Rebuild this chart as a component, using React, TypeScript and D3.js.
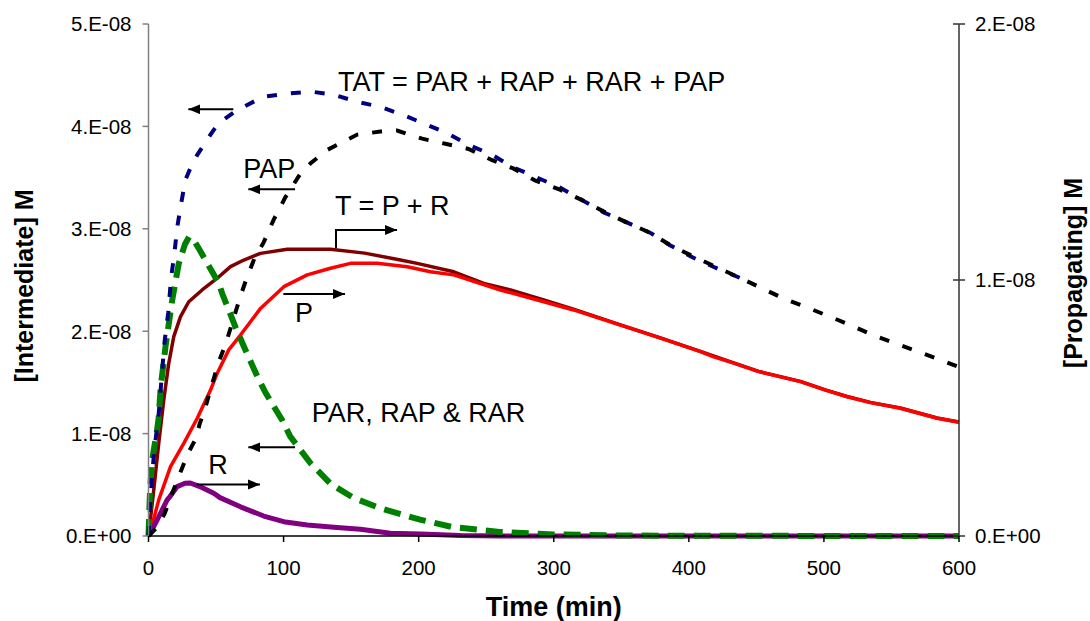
import React from "react";
import * as d3 from "d3";

// ---------- data (time in min, concentrations in units of 1e-8 M) ----------
const UNIT = 1e-8;

// Left axis: [Intermediate] M
const tatData: [number, number][] = [
  [0, 0], [1.5, 0.38], [4, 0.8], [7.6, 1.2], [10.6, 1.69], [12, 1.91], [14.6, 2.18], [16.8, 2.53],
  [19.2, 2.76], [21.2, 3.01], [24.2, 3.25], [27.4, 3.48], [30.3, 3.57], [36, 3.72], [45.9, 3.92],
  [51.8, 4.03], [65.7, 4.16], [85, 4.29], [102.7, 4.32], [120, 4.34], [137, 4.31], [154.5, 4.24],
  [171.7, 4.19], [188.7, 4.11], [203.5, 4.03], [220, 3.94], [237, 3.82], [254.6, 3.72], [270, 3.6],
  [286, 3.51], [305, 3.4], [321, 3.28], [337, 3.16], [354.5, 3.06], [371.6, 2.96], [386, 2.84],
  [403, 2.72], [419.7, 2.62], [438, 2.52],
];

const papData: [number, number][] = [
  [0, 0], [6, 0.08], [12, 0.22], [17, 0.4], [23, 0.6], [29, 0.8], [35, 0.95], [38, 1.1], [42, 1.25],
  [47, 1.48], [52, 1.7], [57, 1.87], [61, 2.04], [68, 2.34], [73, 2.53], [79, 2.73], [85, 2.86],
  [92.7, 3.09], [101.4, 3.31], [112.5, 3.54], [120, 3.64], [132.3, 3.77], [154.5, 3.92], [171.7, 3.95],
  [184, 3.96], [202.6, 3.88], [219.8, 3.83], [236.9, 3.78], [254.4, 3.67], [270, 3.59], [286.5, 3.47],
  [305, 3.38], [321, 3.28], [336.8, 3.17], [354.3, 3.06], [371.6, 2.96], [387.6, 2.83], [403.4, 2.73],
  [419.7, 2.63], [438, 2.52], [454, 2.42], [470, 2.32], [486, 2.24], [504.8, 2.14], [519.6, 2.06],
  [536.6, 1.96], [553, 1.88], [569.9, 1.8], [586, 1.72], [600, 1.65],
];

const parData: [number, number][] = [
  [0, 0], [1, 0.4], [2.5, 0.72], [4, 0.85], [6, 1.0], [7.5, 1.15], [9, 1.45], [12.6, 1.85], [17.5, 2.3],
  [22.4, 2.66], [27, 2.85], [30, 2.92], [34, 2.88], [38, 2.79], [45, 2.63], [52, 2.47], [54.5, 2.37],
  [64.4, 2.04], [70.6, 1.85], [80.5, 1.56], [86.6, 1.4], [99, 1.13], [105, 0.97], [120, 0.71],
  [134.8, 0.51], [152, 0.37], [171.7, 0.27], [201, 0.16], [224, 0.09], [260, 0.04], [300, 0.015],
  [350, 0.005], [400, 0.002], [600, 0],
];

// Right axis: [Propagating] M
const tData: [number, number][] = [
  [0, 0], [3.9, 0.18], [7.6, 0.363], [11.3, 0.531], [15, 0.675], [18.7, 0.779], [23.7, 0.857],
  [29.8, 0.915], [39.7, 0.961], [50.9, 1.007], [60.7, 1.052], [70.6, 1.078], [82.9, 1.104],
  [102.7, 1.12], [134.7, 1.12], [160, 1.105], [186.5, 1.078], [198.9, 1.065], [226, 1.032],
  [248.2, 0.987], [268, 0.961], [292.6, 0.922], [314.6, 0.886], [349.4, 0.825], [379, 0.774],
  [408.6, 0.721], [433.2, 0.676], [451.7, 0.643], [482.6, 0.604], [501.1, 0.571], [517.2, 0.545],
  [534.4, 0.522], [556.6, 0.5], [583.8, 0.461], [600, 0.445],
];

const pData: [number, number][] = [
  [0, 0], [3, 0.05], [7.6, 0.141], [16.3, 0.271], [26.1, 0.362], [36.1, 0.46], [45.9, 0.57],
  [50.9, 0.636], [59.4, 0.727], [68.1, 0.785], [82.9, 0.889], [100.2, 0.974], [117.5, 1.02],
  [134.7, 1.046], [149.5, 1.065], [169.3, 1.065], [191.5, 1.052], [208.7, 1.032], [226, 1.02],
  [260.5, 0.961], [292.6, 0.915], [314.6, 0.883], [349.4, 0.824], [379, 0.773], [408.6, 0.72],
  [418.4, 0.7], [433.2, 0.675], [451.7, 0.642], [482.6, 0.603], [501.1, 0.57], [517.2, 0.544],
  [534.4, 0.521], [556.6, 0.499], [583.8, 0.46], [600, 0.444],
];

const rData: [number, number][] = [
  [0, 0], [6.4, 0.0625], [13.8, 0.141], [15.9, 0.154], [21.2, 0.193], [27, 0.206], [31, 0.207],
  [38, 0.193], [48.3, 0.167], [52.9, 0.15], [68.1, 0.114], [85.3, 0.078], [100.1, 0.056],
  [117.5, 0.043], [137.2, 0.034], [156.9, 0.026], [179.1, 0.011], [201.3, 0.008], [231, 0.002],
  [260, 0], [600, 0],
];

const xTicks = [0, 100, 200, 300, 400, 500, 600];
const leftTicks = [0, 1, 2, 3, 4, 5];
const leftTickLabels = ["0.E+00", "1.E-08", "2.E-08", "3.E-08", "4.E-08", "5.E-08"];
const rightTicks = [0, 1, 2];
const rightTickLabels = ["0.E+00", "1.E-08", "2.E-08"];

// annotations in (time, left-axis units)
const labels = [
  { text: "TAT = PAR + RAP + RAR + PAP", t: 140.3, v: 4.35 },
  { text: "PAP", t: 70.2, v: 3.493 },
  { text: "T = P + R", t: 138.1, v: 3.135 },
  { text: "P", t: 108.5, v: 2.093 },
  { text: "PAR, RAP & RAR", t: 120.8, v: 1.116 },
  { text: "R", t: 44.3, v: 0.605 },
];
const arrows: [number, number][][] = [
  [[62.8, 4.167], [29.5, 4.167]],
  [[108.5, 3.386], [73.9, 3.386]],
  [[138.8, 2.81], [138.8, 2.988], [184, 2.988]],
  [[99.8, 2.363], [145.5, 2.363]],
  [[108.5, 0.866], [73.9, 0.866]],
  [[35.7, 0.503], [82.5, 0.503]],
];

const FONT = "'Liberation Sans', Arial, Helvetica, sans-serif";

export default function App() {
  const W = 1090, H = 621;
  const x = d3.scaleLinear().domain([0, 600]).range([148.5, 959]);
  const yL = d3.scaleLinear().domain([0, 5 * UNIT]).range([536, 24]);
  const yR = d3.scaleLinear().domain([0, 2 * UNIT]).range([536, 24]);

  const lineL = d3.line<[number, number]>().x((d) => x(d[0])).y((d) => yL(d[1] * UNIT));
  const lineR = d3.line<[number, number]>().x((d) => x(d[0])).y((d) => yR(d[1] * UNIT));
  const annLine = d3.line<[number, number]>().x((d) => x(d[0])).y((d) => yL(d[1] * UNIT));

  const x0 = x(0), x1 = x(600), yb = yL(0), yt = yL(5 * UNIT);

  return (
    <svg width={W} height={H} style={{ position: "absolute", left: 0, top: 0, background: "#fff" }} fontFamily={FONT}>
      <defs>
        <marker id="ah" markerUnits="userSpaceOnUse" markerWidth={14} markerHeight={12} refX={12} refY={5} orient="auto">
          <path d="M0,0 L12,5 L0,10 Z" fill="#000" />
        </marker>
      </defs>
      <rect x={0} y={0} width={W} height={H} fill="#fff" />

      {/* series */}
      <path d={lineR(tData) || ""} fill="none" stroke="#800000" strokeWidth={3.5} strokeLinejoin="round" />
      <path d={lineR(pData) || ""} fill="none" stroke="#ff0000" strokeWidth={3.5} strokeLinejoin="round" />
      <path d={lineR(rData) || ""} fill="none" stroke="#800080" strokeWidth={5} strokeLinejoin="round" />
      <path d={lineL(parData) || ""} fill="none" stroke="#008000" strokeWidth={6} strokeDasharray="17 9" />
      <path d={lineL(tatData) || ""} fill="none" stroke="#000080" strokeWidth={4} strokeDasharray="10 14" />
      <path d={lineL(papData) || ""} fill="none" stroke="#000000" strokeWidth={4} strokeDasharray="10 14" />

      {/* axes */}
      <line x1={x0} x2={x0} y1={yt} y2={yb} stroke="#808080" strokeWidth={1.5} />
      <line x1={x1} x2={x1} y1={yt} y2={yb} stroke="#333" strokeWidth={1.5} />
      <line x1={x0} x2={x1} y1={yb} y2={yb} stroke="#000" strokeWidth={1.5} />

      {leftTicks.map((v, i) => (
        <g key={"l" + v}>
          <line x1={x0 - 6} x2={x0} y1={yL(v * UNIT)} y2={yL(v * UNIT)} stroke="#808080" strokeWidth={1.5} />
          <text x={x0 - 17} y={yL(v * UNIT)} dy="0.36em" textAnchor="end" fontSize={20.5} fill="#000">
            {leftTickLabels[i]}
          </text>
        </g>
      ))}
      {rightTicks.map((v, i) => (
        <g key={"r" + v}>
          <line x1={x1 - 6} x2={x1 + 6} y1={yR(v * UNIT)} y2={yR(v * UNIT)} stroke="#333" strokeWidth={1.5} />
          <text x={x1 + 16} y={yR(v * UNIT)} dy="0.36em" textAnchor="start" fontSize={20.5} fill="#000">
            {rightTickLabels[i]}
          </text>
        </g>
      ))}
      {xTicks.map((t) => (
        <g key={"x" + t}>
          <line x1={x(t)} x2={x(t)} y1={yb} y2={yb + 6} stroke="#000" strokeWidth={1.5} />
          <text x={x(t)} y={575} textAnchor="middle" fontSize={20.5} fill="#000">
            {t}
          </text>
        </g>
      ))}

      {/* axis titles */}
      <text x={(x0 + x1) / 2} y={616} textAnchor="middle" fontSize={27} fontWeight="bold" fill="#000">
        Time (min)
      </text>
      <text transform={`translate(33,286) rotate(-90)`} textAnchor="middle" fontSize={25} fontWeight="bold" fill="#000">
        [Intermediate] M
      </text>
      <text transform={`translate(1082,273) rotate(-90)`} textAnchor="middle" fontSize={25} fontWeight="bold" fill="#000">
        [Propagating] M
      </text>

      {/* annotations */}
      {arrows.map((pts, i) => (
        <path key={"a" + i} d={annLine(pts) || ""} fill="none" stroke="#000" strokeWidth={2} markerEnd="url(#ah)" />
      ))}
      {labels.map((l) => (
        <text key={l.text} x={x(l.t)} y={yL(l.v * UNIT)} fontSize={27} fill="#000">
          {l.text}
        </text>
      ))}
    </svg>
  );
}
